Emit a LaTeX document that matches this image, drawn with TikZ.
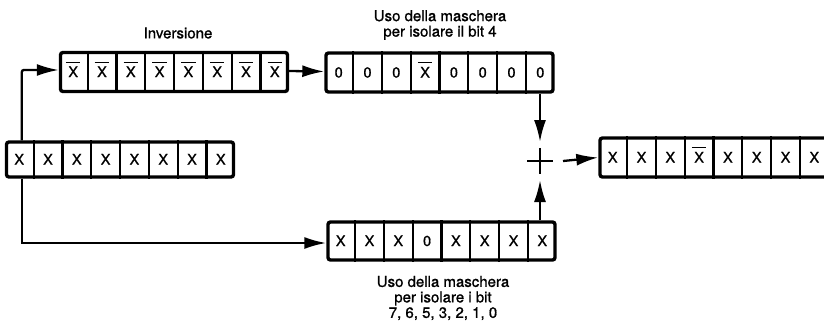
\documentclass[tikz,border=0pt]{standalone}
\usepackage{fontspec}
\setmainfont{TeX Gyre Heros}[FakeBold=1]
\usetikzlibrary{arrows.meta,calc}

% complemented bit: X with a wide bar set a little above it
\newcommand\barX{$\overline{\hbox{\vrule height 13.5pt width 0pt\,X\,}}$}

% an 8-bit register: #1 name, #2 centre, #3 height, #4 the eight bits (bit 7 first)
\newcommand\drawregister[4]{%
  \node[reg, minimum height=#3] (#1) at (#2) {};
  \foreach \b [count=\i] in {#4} {
    \coordinate (#1-c\i) at ($(#1.west)!{(\i-0.5)/8}!(#1.east)$);
    \node[bit] (#1-\i) at ([yshift=-5pt]#1-c\i) {\b};
  }
  \foreach \i in {1,...,7}
    \draw[divider] ($(#1.north west)!{\i/8}!(#1.north east)$) -- ($(#1.south west)!{\i/8}!(#1.south east)$);
}

\begin{document}
\begin{tikzpicture}[x=1pt,y=-1pt,
  reg/.style={draw, line width=3.4pt, rounded corners=2.5pt, minimum width=227pt, inner sep=0pt},
  divider/.style={line width=2.2pt},
  bit/.style={anchor=base, inner sep=0pt, font=\fontsize{14.5}{15}\selectfont},
  flow/.style={line width=2.3pt, -{Latex[length=22pt,width=12pt]}},
  lbl/.style={align=center, inner sep=0pt, font=\fontsize{15}{15.5}\selectfont}]
\useasboundingbox (0,0) rectangle (824,322);

% registers
\drawregister{A}{120,159.5}{35pt}{X,X,X,X,X,X,X,X}
\drawregister{B}{174,72}{39pt}{\barX,\barX,\barX,\barX,\barX,\barX,\barX,\barX}
\drawregister{C}{439.5,72.5}{39pt}{0,0,0,\barX,0,0,0,0}
\drawregister{D}{441.5,241}{38pt}{X,X,X,0,X,X,X,X}
\drawregister{E}{713.5,157.5}{39pt}{X,X,X,\barX,X,X,X,X}

% labels
\node[lbl] (inv) at (178,33) {Inversione};
\node[lbl] (m4) at (440,25) {Uso della maschera\\per isolare il bit 4};
\node[lbl] (m7) at (443,298) {Uso della maschera\\per isolare i bit\\7, 6, 5, 3, 2, 1, 0};

% the sum
\node[inner sep=0pt, minimum width=25pt, minimum height=26pt] (sum) at (540,161) {};
\draw[line width=1.9pt] (sum.west) -- (sum.east) (sum.north) -- (sum.south);
\coordinate (sumtop) at (540,142);
\coordinate (sumbot) at (540,180);
\coordinate (sumout) at (563,161);

% data flow
\draw[flow, rounded corners=2pt] ([xshift=17pt]A.north west) |- ([yshift=2pt]B.west);
\draw[flow] ([xshift=17pt]A.south west) |- ([yshift=-2pt]D.west);
\draw[flow] ([yshift=1pt]B.east) -- ([yshift=1pt]C.west);
\draw[flow] (C.south -| sum) -- (sumtop);
\draw[flow] (D.north -| sum) -- (sumbot);
\draw[flow] (sumout) -- (E.west);
\end{tikzpicture}
\end{document}
